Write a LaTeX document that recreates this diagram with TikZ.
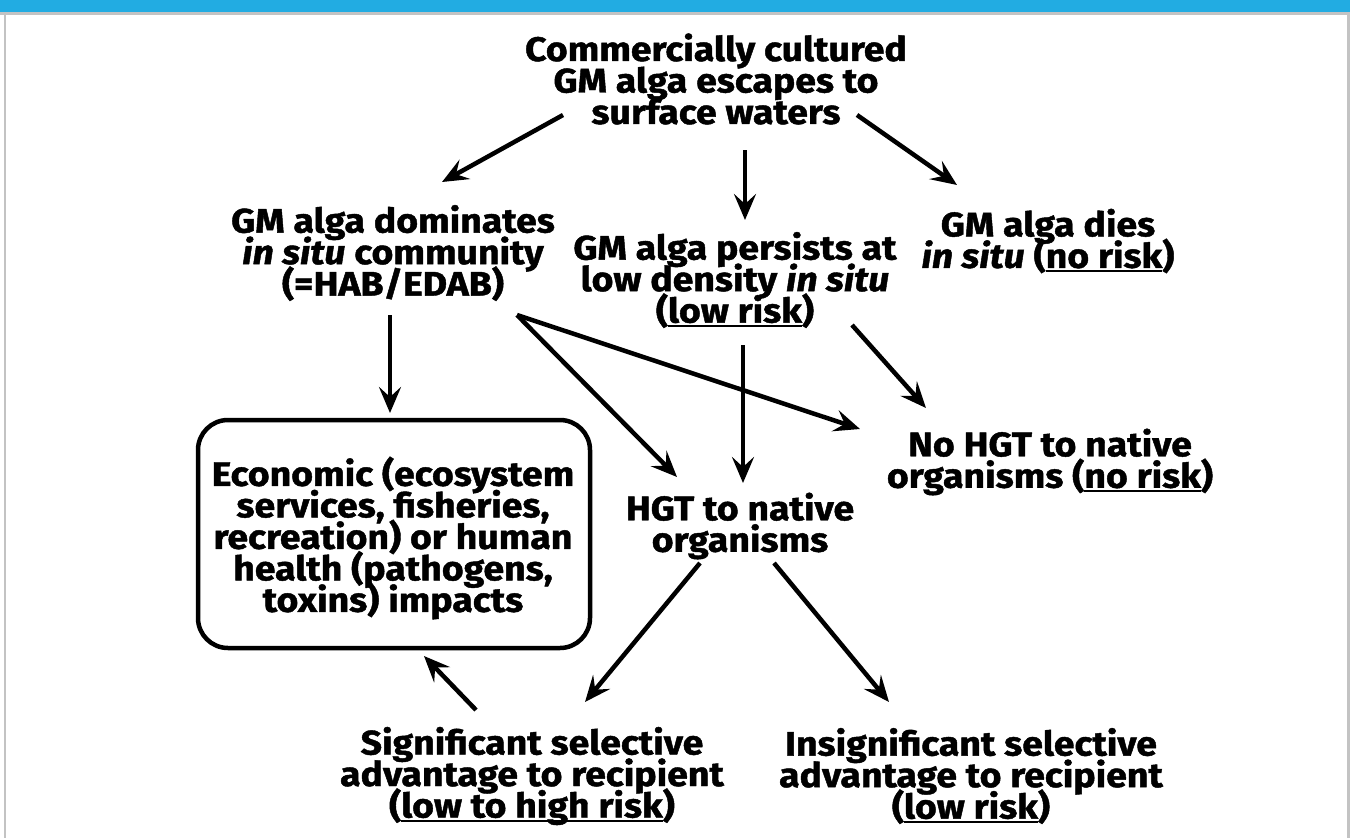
\documentclass[tikz,border=0pt]{standalone}
\usepackage{fontspec}
\setmainfont{Fira Sans}[BoldFeatures={FakeBold=1.3,FakeStretch=1.1},BoldItalicFeatures={FakeBold=1.3,FakeStretch=1.1}]
\usetikzlibrary{arrows.meta}
\definecolor{barblue}{HTML}{22ACE2}
\definecolor{framegray}{HTML}{C3C3C3}
\newcommand{\myul}[1]{\leavevmode\setbox0\hbox{#1}\rlap{\rule[-4.5pt]{\wd0}{2.2pt}}\box0}
\newcommand{\tightlines}{\lineskiplimit=-40pt\relax\lineskip=0pt\relax}
\tikzset{
  lbl/.style={align=center, inner sep=0pt, font=\fontsize{34}{31.5}\selectfont\bfseries\tightlines},
  arr/.style={line width=4.5pt, -{Stealth[length=26pt,width=22pt,inset=10pt]}},
  impactbox/.style={draw, line width=4.5pt, rounded corners=30pt, minimum width=392pt, minimum height=228pt, inner sep=0pt}
}
\begin{document}
\begin{tikzpicture}[x=1pt,y=-1pt]
\useasboundingbox (0,0) rectangle (1350,838);
\fill[white] (0,0) rectangle (1350,838);
\fill[barblue] (0,0) rectangle (1350,12);
\fill[framegray] (0,12) rectangle (1350,15);
\fill[framegray] (4,12) rectangle (6.3,838);
\fill[framegray] (1347.3,12) rectangle (1350,838);

\node[lbl] (top) at (716,79) {Commercially cultured\\GM alga escapes to\\surface waters};
\node[lbl] (dom) at (393,253) {GM alga dominates\\\textit{in situ} community\\(=HAB/EDAB)};
\node[lbl] (per) at (735,280) {GM alga persists at\\low density \textit{in situ}\\(\myul{low risk})};
\node[lbl] (die) at (1048,241) {GM alga dies\\\textit{in situ} (\myul{no risk})};
\node[impactbox] (box) at (394,534) {};
\node[lbl] (boxtext) at (393,538) {Economic (ecosystem\\services, fisheries,\\recreation) or human\\health (pathogens,\\toxins) impacts};
\node[lbl] (hgt) at (740,526) {HGT to native\\organisms};
\node[lbl] (nohgt) at (1050,462) {No HGT to native\\organisms (\myul{no risk})};
\node[lbl] (sig) at (532,776) {Significant selective\\advantage to recipient\\(\myul{low to high risk})};
\node[lbl] (insig) at (971,776) {Insignificant selective\\advantage to recipient\\(\myul{low risk})};

\draw[arr] ([shift={(-153,36)}]top.center) -- ([shift={(49,-71)}]dom.center);
\draw[arr] ([shift={(29,71)}]top.center) -- ([shift={(10,-60)}]per.center);
\draw[arr] ([shift={(141,36)}]top.center) -- ([shift={(-91,-56)}]die.center);
\draw[arr] ([shift={(-3,62)}]dom.center) -- ([shift={(-4,-121)}]box.center);
\draw[arr] ([shift={(124,62)}]dom.center) -- ([shift={(-63,-49)}]hgt.center);
\draw[arr] ([shift={(124,62)}]dom.center) -- ([shift={(-190,-33)}]nohgt.center);
\draw[arr] ([shift={(8,65)}]per.center) -- ([shift={(3,-43)}]hgt.center);
\draw[arr] ([shift={(117,45)}]per.center) -- ([shift={(-124,-54)}]nohgt.center);
\draw[arr] ([shift={(-40,37)}]hgt.center) -- ([shift={(53,-74)}]sig.center);
\draw[arr] ([shift={(34,37)}]hgt.center) -- ([shift={(-82,-74)}]insig.center);
\draw[arr] ([shift={(-56,-66)}]sig.center) -- ([shift={(30,122)}]box.center);
\end{tikzpicture}
\end{document}
